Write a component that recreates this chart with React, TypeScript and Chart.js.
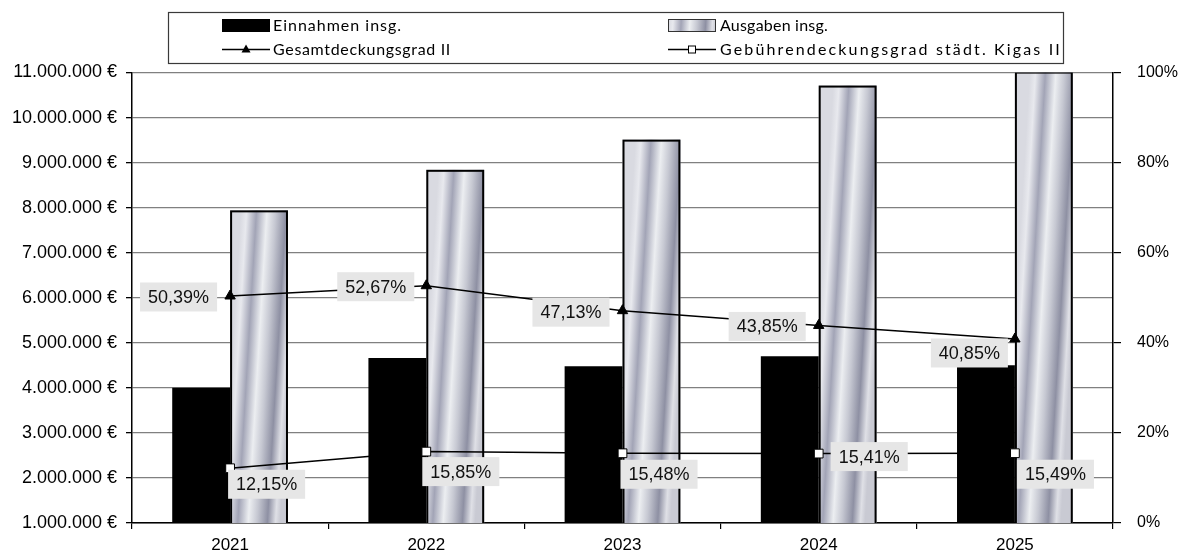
import React, { useEffect, useRef } from 'react';
import { Chart, registerables } from 'chart.js';

Chart.register(...registerables);

// ---- data ----
const categories = ['2021', '2022', '2023', '2024', '2025'];
const einnahmen = [4000000, 4660000, 4480000, 4700000, 4500000];
const ausgaben = [7940000, 8840000, 9510000, 10710000, 11020000];
const gesamtdeckungsgrad = [50.39, 52.67, 47.13, 43.85, 40.85];
const gebuehrendeckungsgrad = [12.15, 15.85, 15.48, 15.41, 15.49];
const seriesNames = [
  'Einnahmen insg.',
  'Ausgaben insg.',
  'Gesamtdeckungsgrad II',
  'Gebührendeckungsgrad städt. Kigas II',
];

// ---- label placement (style/layout, separate from data) ----
type Place = { side: 'left' | 'right'; dx: number; dy: number };
const gesamtPlacement: Place[] = [
  { side: 'left', dx: -13, dy: 1 },
  { side: 'left', dx: -12, dy: 1 },
  { side: 'left', dx: -13, dy: 1.5 },
  { side: 'left', dx: -13, dy: 1 },
  { side: 'left', dx: -7, dy: 14 },
];
const gebuehrPlacement: Place[] = [
  { side: 'right', dx: -2, dy: 16 },
  { side: 'right', dx: -4, dy: 20 },
  { side: 'right', dx: -2, dy: 21 },
  { side: 'right', dx: 12, dy: 3 },
  { side: 'right', dx: 2, dy: 21 },
];
// legend text target widths (layout)
const legendTextWidths = [129, 108, 178, 342];

const fmtPct = (v: number) => v.toFixed(2).replace('.', ',') + '%';
const fmtEur = (v: number) =>
  String(Math.round(v)).replace(/\B(?=(\d{3})+(?!\d))/g, '.') + ' €';

const AXIS_FONT = '"Liberation Sans", Arial, sans-serif';

function metalGradient(ctx: CanvasRenderingContext2D, left: number, right: number, midY: number) {
  const w = right - left;
  const g = ctx.createLinearGradient(left, midY, right, midY + w * 0.06);
  g.addColorStop(0.0, '#d9dae1');
  g.addColorStop(0.1, '#e8e9ee');
  g.addColorStop(0.27, '#a2a4b6');
  g.addColorStop(0.45, '#eceef1');
  g.addColorStop(0.6, '#c6c8d2');
  g.addColorStop(0.78, '#8e90a3');
  g.addColorStop(0.92, '#dfe0e6');
  g.addColorStop(1.0, '#c9cad3');
  return g;
}

const metalBarsPlugin = {
  id: 'metalBars',
  afterDatasetDraw(chart: any, args: any) {
    if (args.index !== 1) return;
    const ctx: CanvasRenderingContext2D = chart.ctx;
    const area = chart.chartArea;
    const meta = chart.getDatasetMeta(1);
    ctx.save();
    ctx.beginPath();
    ctx.rect(area.left, area.top, area.right - area.left, area.bottom - area.top);
    ctx.clip();
    meta.data.forEach((el: any) => {
      const { x, y, base, width } = el.getProps(['x', 'y', 'base', 'width'], true);
      const left = x - width / 2;
      const right = x + width / 2;
      const top = Math.min(y, base);
      const bottom = Math.max(y, base);
      ctx.fillStyle = metalGradient(ctx, left, right, (top + bottom) / 2);
      ctx.fillRect(left, top, right - left, bottom - top);
      ctx.strokeStyle = '#000';
      ctx.lineWidth = 2;
      ctx.strokeRect(left + 1, top + 1, right - left - 2, bottom - top - 1);
    });
    ctx.restore();
  },
};

const valueLabelsPlugin = {
  id: 'valueLabels',
  afterDatasetsDraw(chart: any) {
    const ctx: CanvasRenderingContext2D = chart.ctx;
    ctx.save();
    ctx.font = `18px ${AXIS_FONT}`;
    ctx.textAlign = 'center';
    ctx.textBaseline = 'middle';
    const draw = (dsIndex: number, values: number[], places: Place[]) => {
      const meta = chart.getDatasetMeta(dsIndex);
      meta.data.forEach((pt: any, i: number) => {
        const text = fmtPct(values[i]);
        const w = ctx.measureText(text).width + 16;
        const h = 29;
        const p = places[i];
        const left = p.side === 'left' ? pt.x + p.dx - w : pt.x + p.dx;
        const top = pt.y + p.dy - h / 2;
        ctx.fillStyle = '#e6e6e6';
        ctx.fillRect(left, top, w, h);
        ctx.fillStyle = '#111';
        ctx.fillText(text, left + w / 2, top + h / 2 + 1);
      });
    };
    draw(2, gesamtdeckungsgrad, gesamtPlacement);
    draw(3, gebuehrendeckungsgrad, gebuehrPlacement);
    ctx.restore();
  },
};

const legendPlugin = {
  id: 'boxLegend',
  afterDraw(chart: any) {
    const ctx: CanvasRenderingContext2D = chart.ctx;
    ctx.save();
    // frame
    ctx.fillStyle = '#fff';
    ctx.fillRect(168, 12, 895, 51);
    ctx.strokeStyle = '#3a3a3a';
    ctx.lineWidth = 1.2;
    ctx.strokeRect(168.5, 12.5, 895, 51);

    const row1 = 25.5;
    const row2 = 49.5;
    const c1 = 222;
    const c2 = 668;
    const sw = 48;

    // Einnahmen swatch
    ctx.fillStyle = '#000';
    ctx.fillRect(c1, row1 - 6.5, sw, 13);
    // Ausgaben swatch
    ctx.fillStyle = metalGradient(ctx, c2, c2 + sw, row1);
    ctx.fillRect(c2, row1 - 6.5, sw, 13);
    ctx.strokeStyle = '#333';
    ctx.lineWidth = 1;
    ctx.strokeRect(c2 + 0.5, row1 - 6, sw - 1, 12);

    // Gesamt line + triangle
    ctx.strokeStyle = '#000';
    ctx.lineWidth = 1.5;
    ctx.beginPath();
    ctx.moveTo(c1, row2);
    ctx.lineTo(c1 + sw, row2);
    ctx.stroke();
    ctx.fillStyle = '#000';
    ctx.beginPath();
    const tx = c1 + sw / 2;
    ctx.moveTo(tx, row2 - 5);
    ctx.lineTo(tx + 4.5, row2 + 3);
    ctx.lineTo(tx - 4.5, row2 + 3);
    ctx.closePath();
    ctx.fill();

    // Gebühren line + square
    ctx.beginPath();
    ctx.moveTo(c2, row2);
    ctx.lineTo(c2 + sw, row2);
    ctx.stroke();
    const sx = c2 + sw / 2;
    ctx.fillStyle = '#fff';
    ctx.fillRect(sx - 3.5, row2 - 3.5, 7, 7);
    ctx.lineWidth = 1;
    ctx.strokeRect(sx - 3.5, row2 - 3.5, 7, 7);

    // texts
    ctx.font = '16px Lato, "Open Sans", sans-serif';
    ctx.fillStyle = '#000';
    ctx.textAlign = 'left';
    ctx.textBaseline = 'middle';
    const pos = [
      [c1 + sw + 3, row1],
      [c2 + sw + 4, row1],
      [c1 + sw + 3, row2],
      [c2 + sw + 4, row2],
    ];
    seriesNames.forEach((name, i) => {
      (ctx as any).letterSpacing = '0px';
      const natural = ctx.measureText(name).width;
      const spacing = Math.max(0, (legendTextWidths[i] - natural) / name.length);
      (ctx as any).letterSpacing = `${spacing.toFixed(2)}px`;
      ctx.fillText(name, pos[i][0], pos[i][1]);
    });
    ctx.restore();
  },
};

export default function App() {
  const ref = useRef<HTMLCanvasElement | null>(null);

  useEffect(() => {
    if (!ref.current) return;
    const chart = new Chart(ref.current, {
      type: 'bar',
      data: {
        labels: categories,
        datasets: [
          {
            type: 'bar',
            label: seriesNames[0],
            data: einnahmen,
            yAxisID: 'y',
            backgroundColor: '#000',
            borderWidth: 0,
            categoryPercentage: 0.59,
            barPercentage: 1,
            order: 2,
          } as any,
          {
            type: 'bar',
            label: seriesNames[1],
            data: ausgaben,
            yAxisID: 'y',
            backgroundColor: 'rgba(0,0,0,0)',
            borderWidth: 0,
            categoryPercentage: 0.59,
            barPercentage: 1,
            order: 3,
          } as any,
          {
            type: 'line',
            label: seriesNames[2],
            data: gesamtdeckungsgrad,
            yAxisID: 'y1',
            borderColor: '#000',
            borderWidth: 1.5,
            tension: 0,
            pointStyle: 'triangle',
            pointRadius: 6,
            pointBackgroundColor: '#000',
            pointBorderColor: '#000',
            pointBorderWidth: 1,
            order: 0,
          } as any,
          {
            type: 'line',
            label: seriesNames[3],
            data: gebuehrendeckungsgrad,
            yAxisID: 'y1',
            borderColor: '#000',
            borderWidth: 1.5,
            tension: 0,
            pointStyle: 'rect',
            pointRadius: 6.2,
            pointBackgroundColor: '#fff',
            pointBorderColor: '#000',
            pointBorderWidth: 1,
            order: 1,
          } as any,
        ],
      },
      options: {
        animation: false,
        responsive: true,
        maintainAspectRatio: false,
        layout: { padding: { top: 72.5, left: 0, right: 0, bottom: 0 } },
        plugins: {
          legend: { display: false },
          tooltip: { enabled: false },
        },
        scales: {
          x: {
            type: 'category',
            offset: true,
            grid: {
              offset: true,
              drawOnChartArea: false,
              drawTicks: true,
              tickLength: 6,
              tickColor: '#000',
              lineWidth: 1.2,
            },
            border: { color: '#000', width: 1.5 },
            ticks: {
              color: '#000',
              font: { family: AXIS_FONT, size: 17 },
              padding: 6,
              maxRotation: 0,
            },
            afterFit: (s: any) => {
              s.height = 33;
            },
          },
          y: {
            position: 'left',
            min: 1000000,
            max: 11000000,
            ticks: {
              stepSize: 1000000,
              color: '#000',
              font: { family: AXIS_FONT, size: 18 },
              padding: 9,
              callback: (v: any) => fmtEur(Number(v)),
            },
            grid: {
              color: '#808080',
              lineWidth: 1.3,
              tickColor: '#000',
              tickLength: 6,
            },
            border: { color: '#000', width: 1.5 },
            afterFit: (s: any) => {
              s.width = 132;
            },
          },
          y1: {
            position: 'right',
            min: 0,
            max: 100,
            ticks: {
              stepSize: 20,
              color: '#000',
              font: { family: AXIS_FONT, size: 16 },
              padding: 16,
              callback: (v: any) => `${v}%`,
            },
            grid: {
              drawOnChartArea: false,
              tickColor: '#000',
              tickLength: 8,
              lineWidth: 1.2,
            },
            border: { color: '#000', width: 1.5 },
            afterFit: (s: any) => {
              s.width = 66;
            },
          },
        },
      } as any,
      plugins: [metalBarsPlugin, valueLabelsPlugin, legendPlugin],
    });
    return () => chart.destroy();
  }, []);

  return (
    <div style={{ position: 'fixed', left: 0, top: 0, width: 1179, height: 556, background: '#fff' }}>
      <canvas ref={ref} />
    </div>
  );
}
